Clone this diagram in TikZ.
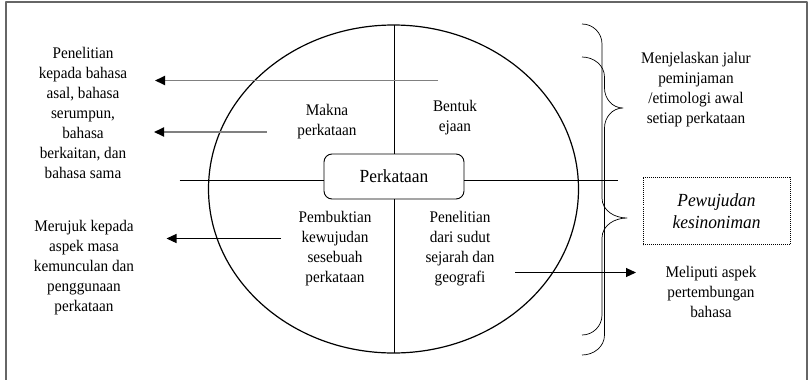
\documentclass[tikz,border=0pt]{standalone}
\usepackage{fontspec}
\setmainfont{Liberation Serif}[FakeStretch=0.94]
\usetikzlibrary{arrows.meta}
\begin{document}
\begin{tikzpicture}[x=1pt,y=-1pt,line join=round,
  every node/.style={align=center,inner sep=0pt,font=\fontsize{16.2}{20}\selectfont},
  arr/.style={-{Triangle[length=10pt,width=9pt,color=black]},line width=1.1pt},
  grayarr/.style={arr,draw=black!50,line width=1.8pt},
  brace/.style={line width=0.7pt}]
\useasboundingbox (0,0) rectangle (811,380);
\draw[black!60,line width=1.4pt] (6,384) -- (6,2) -- (807,2) -- (807,384);
\draw[line width=1.2pt] (393.5,189) ellipse [x radius=185,y radius=164];
\node[draw,rounded corners=8pt,minimum width=140pt,minimum height=45pt,line width=0.9pt,
  font=\fontsize{18.5}{22}\selectfont] (perkataan) at (394,176.5) {Perkataan};
\coordinate (hl) at (179.5,180); \coordinate (hr) at (618,180);
\coordinate (vt) at (394,25); \coordinate (vb) at (394,353);
\draw (hl) -- (hl -| perkataan.west); \draw (perkataan.east |- hr) -- (hr);
\draw (vt) -- (perkataan.north); \draw (perkataan.south) -- (vb);
\node (makna) at (327,122) {Makna\\perkataan};
\node (bentuk) at (455,118) {Bentuk\\ejaan};
\node (pembuktian) at (335,249) {Pembuktian\\kewujudan\\sesebuah\\perkataan};
\node (sejarah) at (460,249) {Penelitian\\dari sudut\\sejarah dan\\geografi};
\node (asal) at (83,113) {Penelitian\\kepada bahasa\\asal, bahasa\\serumpun,\\bahasa\\berkaitan, dan\\bahasa sama};
\node (masa) at (84,268) {Merujuk kepada\\aspek masa\\kemunculan dan\\penggunaan\\perkataan};
\node (jalur) at (696,90) {Menjelaskan jalur\\peminjaman\\/etimologi awal\\setiap perkataan};
\node (aspek) at (711,292) {Meliputi aspek\\pertembungan\\bahasa};
\node[draw,dash pattern=on 0.9pt off 1.1pt,line width=0.9pt,minimum width=147pt,minimum height=67pt,
  font=\fontsize{18.5}{21.6}\selectfont\itshape] (pewujudan) at (716.5,211) {Pewujudan\\kesinoniman};
\coordinate (a1s) at (438,80.5); \coordinate (a1e) at (155,80.5);
\coordinate (a2s) at (266.5,132); \coordinate (a2e) at (154,132);
\coordinate (a3s) at (281,238.5); \coordinate (a3e) at (166.5,238.5);
\coordinate (a4s) at (515,272.5); \coordinate (a4e) at (636,272.5);
\draw[grayarr] (a1s) -- (a1e);
\draw[grayarr] (a2s) -- (a2e);
\draw[arr] (a3s) -- (a3e);
\draw[arr] (a4s) -- (a4e);
\draw[brace] (582,24) to[out=0,in=90] (602,44) -- (602,198) to[out=-90,in=180] (627,218)
  to[out=180,in=90] (602,238) -- (602,315) to[out=-90,in=0] (582,335);
\draw[brace] (582,57) to[out=0,in=90] (604.5,77) -- (604.5,88) to[out=-90,in=180] (623,108)
  to[out=180,in=90] (604.5,128) -- (604.5,335) to[out=-90,in=0] (582,355);
\end{tikzpicture}
\end{document}
